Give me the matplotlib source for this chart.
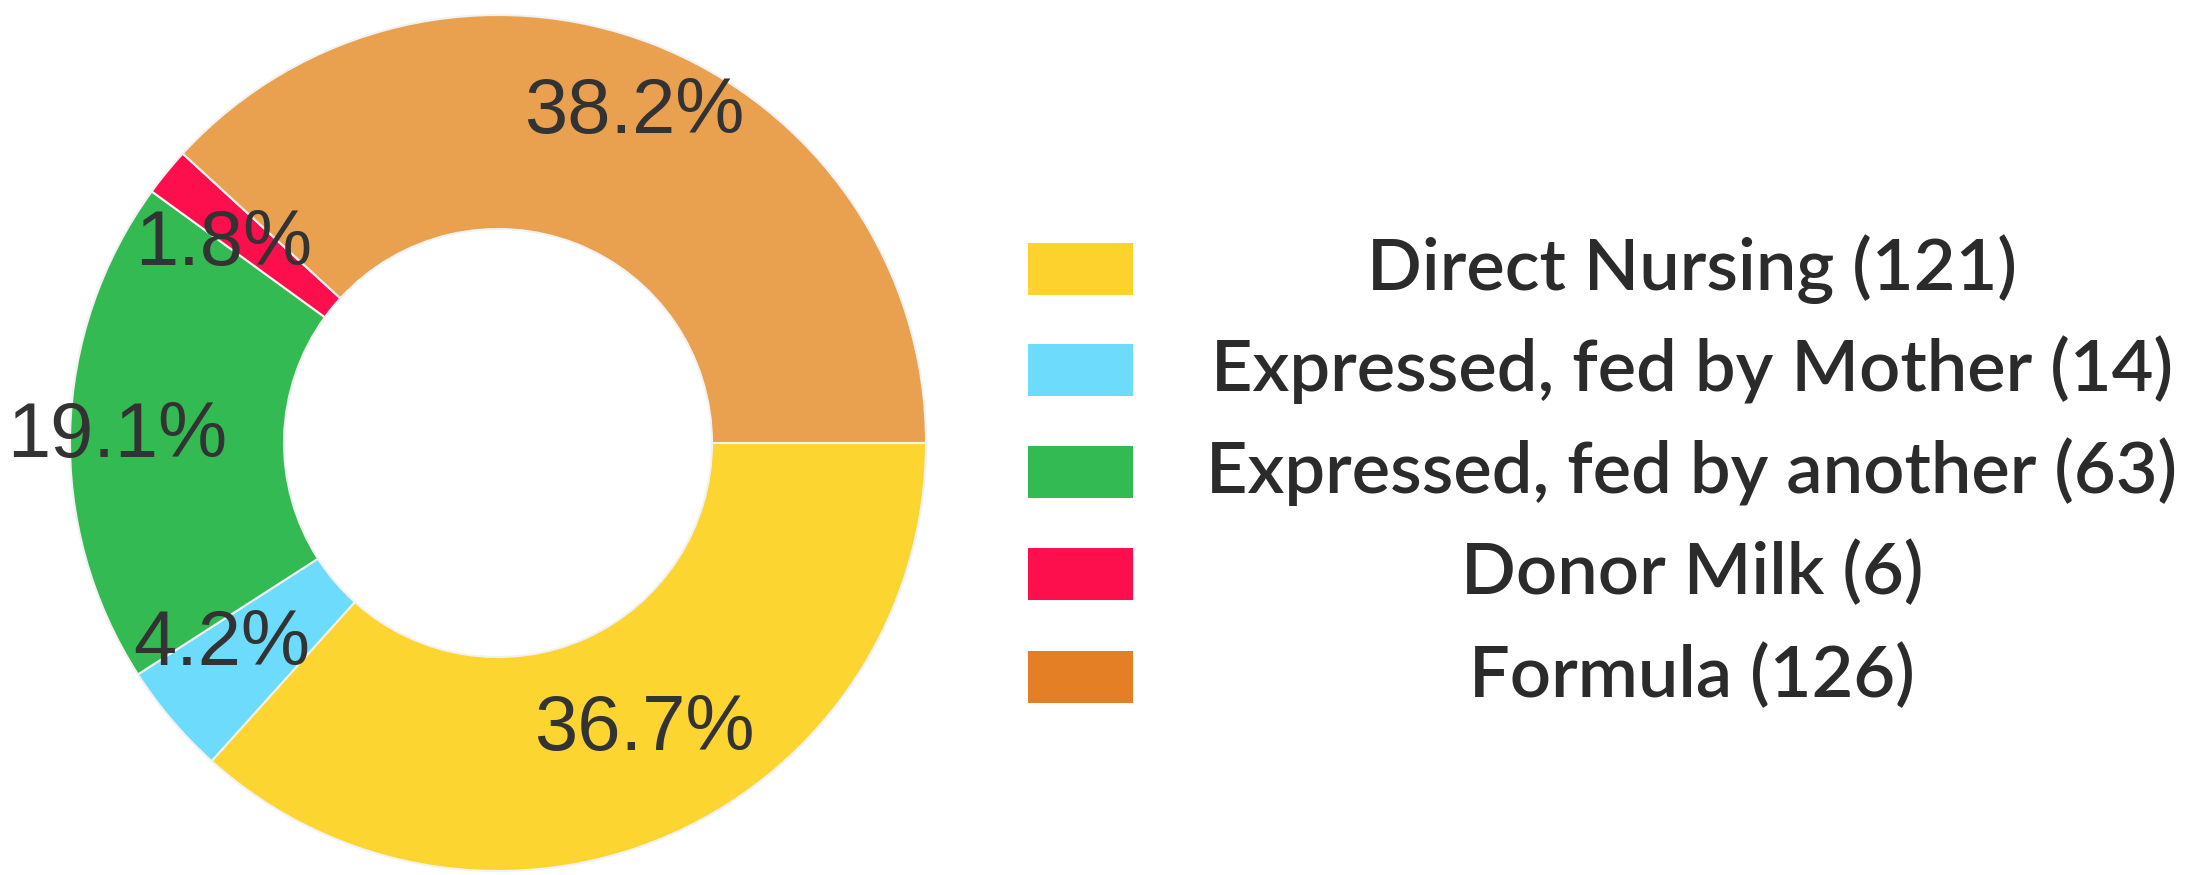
import matplotlib
matplotlib.use('Agg')
import matplotlib.pyplot as plt
from matplotlib import font_manager
from matplotlib.patches import Rectangle
import numpy as np

# data
categories = ['Direct Nursing', 'Expressed, fed by Mother', 'Expressed, fed by another',
              'Donor Milk', 'Formula']
counts = [121, 14, 63, 6, 126]

slice_colors = ['#FDD531', '#6DDCFC', '#33BA53', '#FD0E4C', '#E9A150']
legend_colors = ['#FDD22C', '#6DDCFC', '#33BA53', '#FD0E4C', '#E57F26']

# where the percentage labels sit (fraction of radius, angle shift in degrees)
label_r = [0.753, 0.799, 0.890, 0.792, 0.834]
label_shift = [3.1, -4.2, 0.6, 3.4, -1.1]

names = font_manager.get_font_names()
pct_font = 'Liberation Sans'

W, H = 2185, 875
fig = plt.figure(figsize=(W / 100, H / 100), dpi=100)

cx, cy, R = 498, 875 - 443, 428
ax = fig.add_axes([(cx - R) / W, (cy - R) / H, 2 * R / W, 2 * R / H])

wedges, _ = ax.pie(counts, colors=slice_colors, startangle=0, counterclock=False,
                   radius=1.0, wedgeprops=dict(width=0.5, edgecolor='#f2f2f2', linewidth=1.5))
ax.set_xlim(-1, 1)
ax.set_ylim(-1, 1)
ax.axis('off')

total = sum(counts)
for w, c, r, s in zip(wedges, counts, label_r, label_shift):
    mid = np.deg2rad((w.theta1 + w.theta2) / 2 + s)
    ax.text(r * np.cos(mid), r * np.sin(mid), f'{100 * c / total:.1f}%',
            ha='center', va='center', fontsize=56, color='#333333',
            family=pct_font, clip_on=False)

# legend drawn by hand: box on the left, centred label on the right
rows_y = [269, 370, 472, 574, 677]
for col, name, c, y in zip(legend_colors, categories, counts, rows_y):
    yb = H - y
    fig.add_artist(Rectangle((1028 / W, (yb - 26) / H), 105 / W, 52 / H,
                             transform=fig.transFigure, color=col, lw=0))
    fig.text(1692 / W, yb / H, f'{name} ({c})', ha='center', va='center',
             fontsize=52, color='#2b2b2b', family='Lato', fontweight='semibold')

fig.savefig('out.png', dpi=100)
